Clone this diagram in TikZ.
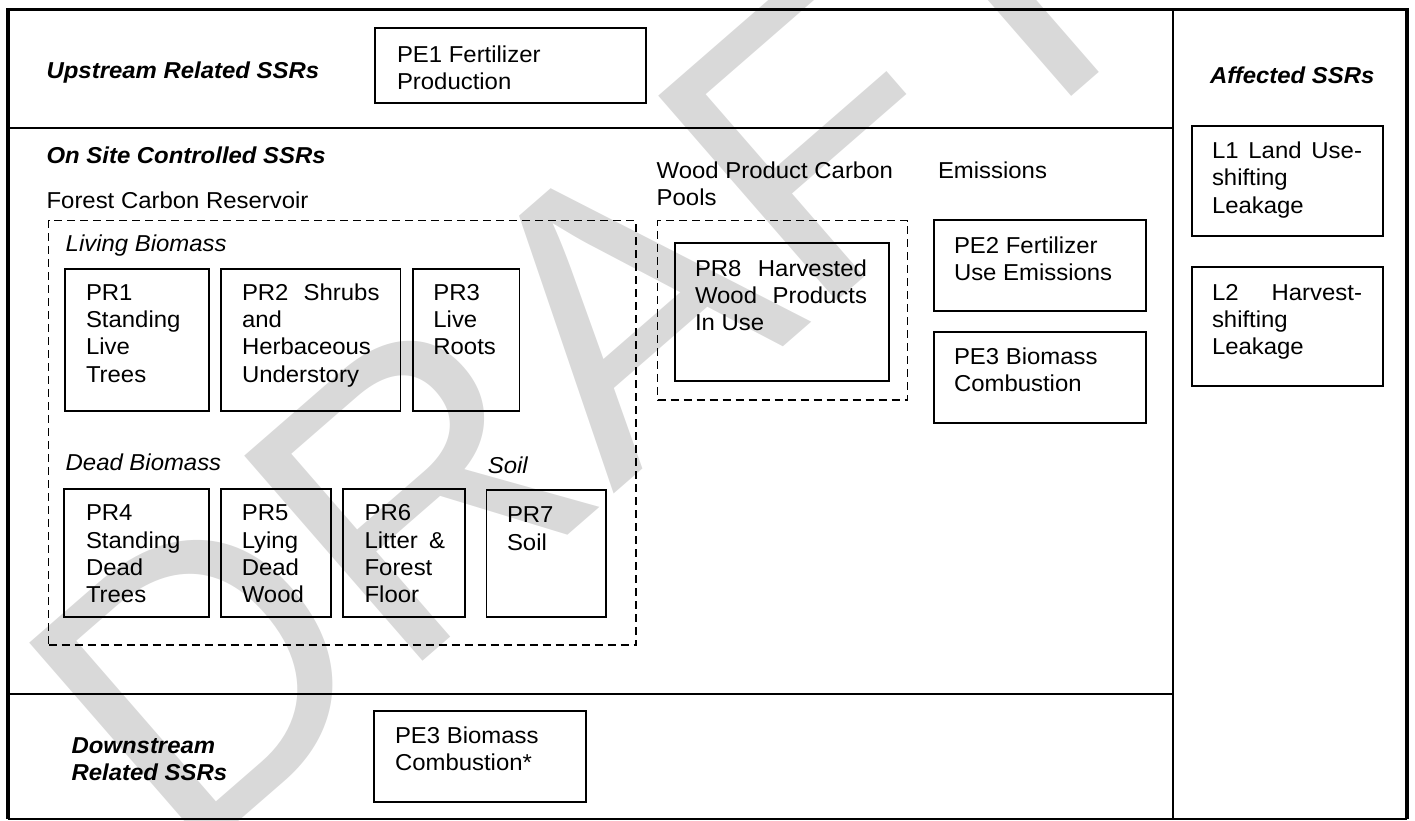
\documentclass[tikz,border=0pt]{standalone}
\usepackage{fontspec}
\setmainfont{Liberation Sans}[FakeStretch=1.04]
\newfontfamily\wmfont{Liberation Sans}
\newcommand\fsz{\fontsize{23}{27.4}\selectfont}
\newcommand\myfirst{\rule{0pt}{17pt}}
\tikzset{
  boxst/.style={draw, line width=1.8pt, outer sep=0pt, inner sep=0pt},
  dbox/.style={draw, line width=1.5pt, dash pattern=on 8pt off 5pt, outer sep=0pt, inner sep=0pt},
  txt/.style={inner sep=0pt, outer sep=0pt, anchor=north west, align=left, font=\fsz},
  lbl/.style={inner sep=0pt, outer sep=0pt, anchor=base west, font=\fsz},
  hdr/.style={inner sep=0pt, outer sep=0pt, anchor=north west, align=left, font=\fsz\bfseries\itshape},
  wm/.style={inner sep=0pt, outer sep=0pt, anchor=base west, text=black!15, font=\wmfont\fontsize{395}{395}\selectfont}
}
\begin{document}
\begin{tikzpicture}[x=1pt,y=-1pt]
\useasboundingbox (0,0) rectangle (1415,820);
% watermark
\begin{scope}
\clip (0,0) rectangle (1415,820);
\node[wm, rotate=41] (wmark) at (183.2,869.1) {DRAFT};
\end{scope}
% frame
\coordinate (tl) at (8,9.5);
\coordinate (tr) at (1407,9.5);
\coordinate (bl) at (8,819);
\coordinate (br) at (1407,819);
\draw[line width=3.5pt] (bl) -- (tl) -- (tr) -- (br);
\draw[line width=1.5pt] (bl) -- (br);
\coordinate (vt) at (1173,9.5);
\coordinate (vb) at (1173,819);
\draw[line width=2pt] (vt) -- (vb);
\coordinate (h1l) at (8,128);
\coordinate (h1r) at (1173,128);
\coordinate (h2l) at (8,694);
\coordinate (h2r) at (1173,694);
\draw[line width=2pt] (h1l) -- (h1r);
\draw[line width=2pt] (h2l) -- (h2r);
% headings
\node[hdr] (up) at (46.6,61) {\myfirst Upstream Related SSRs};
\node[hdr] (on) at (46.6,146) {\myfirst On Site Controlled SSRs};
\node[hdr] (down) at (71.6,736.3) {\myfirst Downstream\\Related SSRs};
\node[hdr] (aff) at (1210,66.3) {\myfirst Affected SSRs};
% group labels
\node[lbl] (fcr) at (46.6,208) {Forest Carbon Reservoir};
\node[txt] (wpc) at (656.7,161) {\myfirst Wood Product Carbon\\Pools};
\node[lbl] (emi) at (938,178) {Emissions};
\node[lbl, font=\fsz\itshape] (liv) at (65.7,251.7) {Living Biomass};
\node[lbl, font=\fsz\itshape] (dead) at (65.7,470) {Dead Biomass};
\node[lbl, font=\fsz\itshape] (soil) at (487.8,473) {Soil};
% dashed groups
\node[dbox, minimum width=587.5pt, minimum height=424.3pt, anchor=north west] (forest) at (48.5,220.7) {};
\node[dbox, minimum width=249.8pt, minimum height=179.3pt, anchor=north west] (wood) at (657.6,220.7) {};
% boxes
\node[boxst, minimum width=271pt, minimum height=75pt, anchor=north west] (pe1) at (375,28) {};
\node[boxst, minimum width=144.2pt, minimum height=142.3pt, anchor=north west] (pr1) at (64.8,268.7) {};
\node[boxst, minimum width=179.4pt, minimum height=142.3pt, anchor=north west] (pr2) at (221,268.7) {};
\node[boxst, minimum width=106.9pt, minimum height=142.3pt, anchor=north west] (pr3) at (412.6,268.7) {};
\node[boxst, minimum width=144.9pt, minimum height=128pt, anchor=north west] (pr4) at (64.3,488.7) {};
\node[boxst, minimum width=110.4pt, minimum height=128pt, anchor=north west] (pr5) at (220.6,488.7) {};
\node[boxst, minimum width=121.7pt, minimum height=128pt, anchor=north west] (pr6) at (343.3,488.7) {};
\node[boxst, minimum width=119.6pt, minimum height=126.4pt, anchor=north west] (pr7) at (486.4,490.3) {};
\node[boxst, minimum width=214.5pt, minimum height=138.3pt, anchor=north west] (pr8) at (674.8,242.7) {};
\node[boxst, minimum width=212pt, minimum height=90.7pt, anchor=north west] (pe2) at (933.7,220) {};
\node[boxst, minimum width=212pt, minimum height=91.6pt, anchor=north west] (pe3) at (933.7,331.7) {};
\node[boxst, minimum width=191.1pt, minimum height=110.3pt, anchor=north west] (l1) at (1191.9,125.7) {};
\node[boxst, minimum width=191.1pt, minimum height=119pt, anchor=north west] (l2) at (1191.9,267) {};
\node[boxst, minimum width=211.6pt, minimum height=91pt, anchor=north west] (pe3d) at (374,710.7) {};
% box texts
\node[txt] (pe1t) at (397,45) {\myfirst PE1 Fertilizer\\Production};
\node[txt] (pr1t) at (86,283) {\myfirst PR1\\Standing\\Live\\Trees};
\node[txt] (pr2t) at (242,283) {\myfirst\hbox to 137.5pt{PR2\hfill Shrubs}\\and\\Herbaceous\\Understory};
\node[txt] (pr3t) at (433.4,283) {\myfirst PR3\\Live\\Roots};
\node[txt] (pr4t) at (86,503.7) {\myfirst PR4\\Standing\\Dead\\Trees};
\node[txt] (pr5t) at (241.8,503.7) {\myfirst PR5\\Lying\\Dead\\Wood};
\node[txt] (pr6t) at (364.6,503.7) {\myfirst PR6\\\hbox to 80.6pt{Litter\hfill\&}\\Forest\\Floor};
\node[txt] (pr7t) at (507,505.7) {\myfirst PR7\\Soil};
\node[txt] (pr8t) at (695,259) {\myfirst\hbox to 172pt{PR8\hfill Harvested}\\\hbox to 172pt{Wood\hfill Products}\\In Use};
\node[txt] (pe2t) at (954,236.3) {\myfirst PE2 Fertilizer\\Use Emissions};
\node[txt] (pe3t) at (954,347.3) {\myfirst PE3 Biomass\\Combustion};
\node[txt] (l1t) at (1212,141.3) {\myfirst\hbox to 150pt{L1\hfill Land\hfill Use-}\\shifting\\Leakage};
\node[txt] (l2t) at (1212,283) {\myfirst\hbox to 150pt{L2\hfill Harvest-}\\shifting\\Leakage};
\node[txt] (pe3dt) at (395,726.3) {\myfirst PE3 Biomass\\Combustion*};
\end{tikzpicture}
\end{document}
